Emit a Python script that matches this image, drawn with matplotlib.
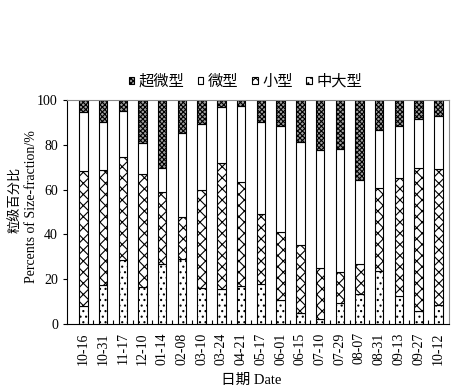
import matplotlib
matplotlib.use("Agg")
import matplotlib.pyplot as plt
import numpy as np

dates = ["10-16", "10-31", "11-17", "12-10", "01-14", "02-08", "03-10", "03-24",
         "04-21", "05-17", "06-01", "06-15", "07-10", "07-29", "08-07", "08-31",
         "09-13", "09-27", "10-12"]
large = [8.0, 17.3, 28.4, 16.5, 26.6, 28.9, 16.2, 15.5, 16.8, 17.7, 10.7, 4.8,
         2.2, 9.2, 13.3, 23.7, 12.4, 5.7, 8.3]          # 中大型
small = [60.3, 51.5, 46.2, 50.6, 32.5, 19.0, 43.5, 56.4, 46.6, 31.4, 30.4, 30.3,
         22.8, 13.9, 13.6, 36.9, 52.6, 63.8, 60.9]      # 小型
micro = [26.5, 21.5, 20.6, 13.6, 10.4, 37.2, 29.4, 24.8, 33.8, 41.2, 47.4, 46.0,
         52.5, 54.9, 37.5, 25.9, 23.5, 21.9, 23.8]      # 微型
pico = [5.2, 9.7, 4.8, 19.3, 30.5, 14.9, 10.9, 3.3, 2.8, 9.7, 11.5, 18.9,
        22.5, 22.0, 35.6, 13.5, 11.5, 8.6, 7.0]         # 超微型

names = ["超微型", "微型", "小型", "中大型"]

plt.rcParams['font.family'] = ['Liberation Serif', 'Noto Sans CJK SC']
plt.rcParams['hatch.linewidth'] = 0.8

W, H = 463, 391
fig = plt.figure(figsize=(W / 100, H / 100), dpi=100)
ax = fig.add_axes([67 / W, 1 - 324 / H, (449 - 67) / W, (324 - 100) / H])

x = np.arange(len(dates))
bw = 0.43
b1 = np.array(large)
b2 = b1 + np.array(small)
b3 = b2 + np.array(micro)

h_large = ax.bar(x, large, bw, color='white', edgecolor='black', hatch='...', lw=0.8)
h_small = ax.bar(x, small, bw, bottom=b1, color='white', edgecolor='black', hatch='xxx', lw=0.8)
h_micro = ax.bar(x, micro, bw, bottom=b2, color='white', edgecolor='black', lw=0.8)
h_pico = ax.bar(x, pico, bw, bottom=b3, color='#a0a0a0', edgecolor='black', hatch='xxxxxxx', lw=0.8)

ax.set_xlim(-0.83, 18.54)
ax.set_ylim(0, 100)
ax.set_yticks([0, 20, 40, 60, 80, 100])
ax.tick_params(axis='y', direction='out', length=3, labelsize=10, width=0.8)
ax.set_xticks(x)
ax.set_xticklabels(dates, rotation=90, fontsize=10)
ax.tick_params(axis='x', which='major', length=0, pad=6)
ax.set_xticks(np.arange(len(dates) - 1) + 0.5, minor=True)
ax.tick_params(axis='x', which='minor', direction='in', length=3, width=0.8)

for s in ['top', 'right']:
    ax.spines[s].set_color('#8a8a8a')
for s in ['left', 'bottom']:
    ax.spines[s].set_color('black')
    ax.spines[s].set_linewidth(0.8)

leg = ax.legend([h_pico, h_micro, h_small, h_large], names, ncol=4,
                loc='center', bbox_to_anchor=(0.467, 1.082), frameon=False,
                handlelength=0.35, handleheight=0.35, handletextpad=0.3,
                columnspacing=0.9, fontsize=11, borderaxespad=0)

fig.text(16 / W, 1 - 200 / H, "粒级百分比", rotation=90, ha='center', va='center',
         fontsize=9.5, family=['Noto Sans CJK SC'])
fig.text(31.5 / W, 1 - 207 / H, "Percents of Size-fraction/%", rotation=90,
         ha='center', va='center', fontsize=10)
fig.text(251 / W, 1 - 380 / H, "日期 Date", ha='center', va='center', fontsize=10.5)

fig.savefig("out.png", dpi=100)
